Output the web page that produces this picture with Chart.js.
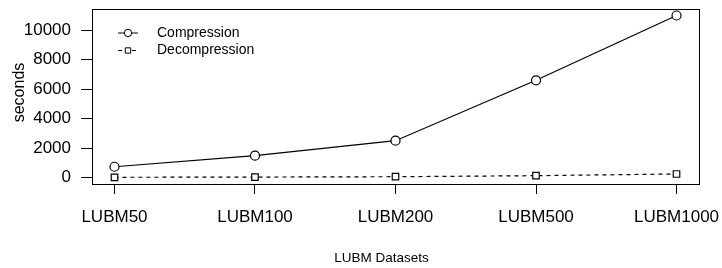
<!DOCTYPE html>
<html>
<head>
<meta charset="utf-8">
<script src="https://cdn.jsdelivr.net/npm/chart.js@4"></script>
<style>
  html, body { margin: 0; padding: 0; background: #fff; }
  #wrap { width: 722px; height: 268px; }
</style>
</head>
<body>
<div id="wrap"><canvas id="chart" width="722" height="268"></canvas></div>
<script>
var categories = ['LUBM50', 'LUBM100', 'LUBM200', 'LUBM500', 'LUBM1000'];
var compression = [730, 1480, 2500, 6600, 11000];
var decompression = [15, 30, 55, 125, 240];
var yTicks = [0, 2000, 4000, 6000, 8000, 10000];
var seriesNames = ['Compression', 'Decompression'];

var FONT = '"Liberation Sans", Arial, Helvetica, sans-serif';
Chart.defaults.color = '#000';
Chart.defaults.font.family = FONT;

function toPoints(arr) {
    return arr.map(function (v, i) { return { x: i, y: v }; });
}

// R-like frame, legend and axis titles
var frame = {
    id: 'frame',
    afterDatasetsDraw: function (chart) {
        var ctx = chart.ctx, a = chart.chartArea;
        ctx.save();
        ctx.strokeStyle = '#000';
        ctx.lineWidth = 1;
        ctx.strokeRect(a.left + 0.5, a.top + 0.5, a.right - a.left, a.bottom - a.top);

        // legend
        var sx = a.left + 36, x0 = sx - 10, x1 = sx + 10;
        var rows = [a.top + 24, a.top + 41.5];
        chart.data.datasets.forEach(function (ds, i) {
            var y = rows[i];
            ctx.setLineDash(ds.borderDash || []);
            ctx.beginPath();
            if (ds.borderDash) {
                ctx.moveTo(x0, y); ctx.lineTo(sx - 4, y);
                ctx.moveTo(sx + 4, y); ctx.lineTo(x1, y);
            } else {
                ctx.moveTo(x0, y); ctx.lineTo(x1, y);
            }
            ctx.stroke();
            ctx.setLineDash([]);
            ctx.fillStyle = '#fff';
            Chart.helpers.drawPoint(ctx, {
                pointStyle: ds.pointStyle, radius: ds.pointRadius - 0.8, borderWidth: 1
            }, sx, y);
            ctx.fillStyle = '#000';
            ctx.font = '14px ' + FONT;
            ctx.textAlign = 'left';
            ctx.textBaseline = 'middle';
            ctx.fillText(ds.label, a.left + 65, y);
        });

        // axis titles
        ctx.font = '13.5px ' + FONT;
        ctx.textAlign = 'center';
        ctx.fillText('LUBM Datasets', (a.left + a.right) / 2 - 14, 258);
        ctx.translate(20, (a.top + a.bottom) / 2 - 4);
        ctx.rotate(-Math.PI / 2);
        ctx.font = '16px ' + FONT;
        ctx.fillText('seconds', 0, 0);
        ctx.restore();
    }
};

new Chart(document.getElementById('chart'), {
    type: 'line',
    data: {
        datasets: [{
            label: seriesNames[0],
            data: toPoints(compression),
            borderColor: '#000',
            borderWidth: 1.2,
            backgroundColor: '#fff',
            pointStyle: 'circle',
            pointRadius: 4.5,
            pointBorderWidth: 1.2,
            tension: 0
        }, {
            label: seriesNames[1],
            data: toPoints(decompression),
            borderColor: '#000',
            borderWidth: 1.2,
            borderDash: [4, 4],
            backgroundColor: '#fff',
            pointStyle: 'rect',
            pointRadius: 4.6,
            pointBorderWidth: 1.2,
            tension: 0
        }]
    },
    plugins: [frame],
    options: {
        responsive: false,
        animation: false,
        layout: { padding: { top: 9, right: 23, left: 0, bottom: 0 } },
        plugins: {
            legend: { display: false },
            tooltip: { enabled: false }
        },
        scales: {
            x: {
                type: 'linear',
                min: -0.16,
                max: 4.16,
                afterBuildTicks: function (axis) {
                    axis.ticks = categories.map(function (c, i) { return { value: i }; });
                },
                afterFit: function (axis) {
                    axis.height = 84;
                    axis.paddingLeft = 0;
                    axis.paddingRight = 0;
                },
                border: { display: false },
                grid: { drawOnChartArea: false, color: '#000', tickLength: 10, lineWidth: 1 },
                ticks: {
                    autoSkip: false,
                    maxRotation: 0,
                    padding: 13,
                    font: { size: 17 },
                    callback: function (v) { return categories[v]; }
                }
            },
            y: {
                min: -440,
                max: 11440,
                afterBuildTicks: function (axis) {
                    axis.ticks = yTicks.map(function (v) { return { value: v }; });
                },
                afterFit: function (axis) {
                    axis.width = 92;
                    axis.paddingTop = 0;
                    axis.paddingBottom = 0;
                },
                border: { display: false },
                grid: { drawOnChartArea: false, color: '#000', tickLength: 11, lineWidth: 1 },
                ticks: {
                    padding: 10,
                    font: { size: 17 },
                    callback: function (v) { return String(v); }
                }
            }
        }
    }
});
</script>
</body>
</html>
